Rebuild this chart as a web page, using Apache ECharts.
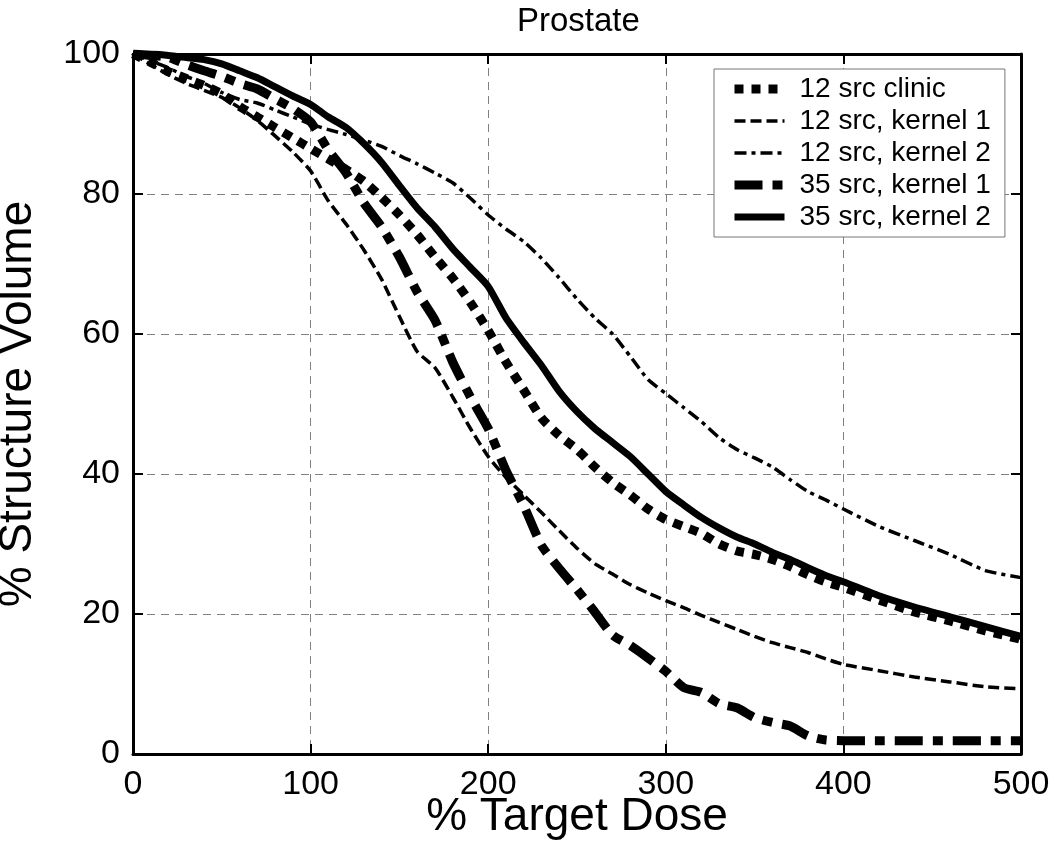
<!DOCTYPE html>
<html>
<head>
<meta charset="utf-8">
<script src="https://cdn.jsdelivr.net/npm/echarts@6/dist/echarts.min.js"></script>
<style>html,body{margin:0;padding:0;background:#fff}#c{width:1050px;height:852px}</style>
</head>
<body>
<div id="c"></div>
<script>
var dose = [0,10,20,30,40,50,60,70,80,90,100,110,120,130,140,150,160,170,180,190,200,210,220,230,240,250,260,270,280,290,300,310,320,330,340,350,360,370,380,390,400,420,440,460,480,500];
var clinic12 = [100,98.8,97.5,96.5,95.5,94.3,92.5,91,89.5,88,86.5,85,83.5,81.8,79.5,77,74.2,71,68,64.5,60.5,56,52,48,45.5,43.5,41,38.8,37,35,33.5,32.5,31.5,30,29,28.5,27.8,26.8,25.6,24.6,23.8,22,20.3,19,17.6,16.4];
var kernel1_12 = [100,98.5,97,95.8,94.8,93.8,92.3,90.5,88.3,86,83.3,79,75.7,72,67.8,62.5,57.5,55.2,51,46.5,42.5,39.5,37,34.5,31.9,29.4,27.2,25.7,24.2,23,21.9,20.9,19.8,18.8,17.8,16.8,15.9,15.2,14.5,13.6,12.8,11.9,11,10.3,9.6,9.3];
var kernel2_12 = [100,99,98,96.8,95.8,94.5,93.5,93,92,91,90,89.2,88.5,87.7,86.8,85.5,84.3,83,81.6,79.4,77,75,73.2,70.8,68,65,62.3,60,56.8,53.5,51.5,49.5,47.5,45.2,43.5,42.3,41,39.2,37.5,36.3,35,32.5,30.5,28.5,26.2,25.2];
var kernel1_35 = [100,99.8,99.5,98.5,97.6,96.8,95.8,95,93.6,92.2,90.3,86.3,83,78.7,75.3,71,66,62,56,51,46.5,40.5,35.5,29.8,26.5,23.5,20.3,17,15.5,13.7,11.8,9.5,8.8,7.2,6.6,5.2,4.5,4,2.6,2,1.9,1.9,1.9,1.9,1.9,1.9];
var kernel2_35 = [100,100,99.8,99.5,99.2,98.6,97.6,96.6,95.3,94,92.8,91,89.5,87.2,84.5,81.2,78,75.3,72.2,69.5,66.8,62.3,58.8,55.5,51.8,48.9,46.5,44.5,42.5,40,37.5,35.6,33.8,32.3,31,30,28.8,27.8,26.6,25.5,24.6,22.6,21,19.6,18.2,16.8];
var seriesNames = ['12 src clinic','12 src, kernel 1','12 src, kernel 2','35 src, kernel 1','35 src, kernel 2'];
var xTicks = [0,100,200,300,400,500];
var yTicks = [0,20,40,60,80,100];

function pairs(ys){ return dose.map(function(d,i){ return [d, ys[i]]; }); }
var FONT = 'Liberation Sans, Arial, sans-serif';
var styles = [
  {width:9, type:[9,8]},
  {width:3.5, type:[11,5]},
  {width:3.5, type:[12,5,4,5]},
  {width:9, type:[28,10,10,10]},
  {width:7, type:'solid'}
];
var datasets = [clinic12, kernel1_12, kernel2_12, kernel1_35, kernel2_35];

var chart = echarts.init(document.getElementById('c'), null, {renderer:'canvas'});
var axisCommon = {
  axisLine:{show:true, onZero:false, lineStyle:{color:'#000', width:3}},
  axisTick:{show:true, inside:true, length:10, lineStyle:{color:'#000', width:2}}
};
chart.setOption({
  animation:false,
  backgroundColor:'#fff',
  title:{text:'Prostate', left:512, top:0, textStyle:{fontFamily:FONT, fontSize:33, fontWeight:'normal', color:'#000'}},
  grid:{left:133, right:29, top:54, bottom:98, containLabel:false, outerBoundsMode:'none'},
  legend:{
    orient:'vertical', left:714, top:69,
    backgroundColor:'#fff', borderColor:'#777', borderWidth:1,
    padding:[6,14,6,16], itemWidth:50, itemHeight:20, itemGap:4,
    data:seriesNames,
    itemStyle:{opacity:0, borderWidth:0},
    lineStyle:{width:'inherit', type:'inherit'},
    textStyle:{fontFamily:FONT, fontSize:28, color:'#000', padding:[0,0,0,10]}
  },
  xAxis:[
    Object.assign({type:'value', min:0, max:500, interval:100, position:'bottom',
      name:'% Target Dose', nameLocation:'middle', nameGap:40, nameMoveOverlap:false,
      nameTextStyle:{fontFamily:FONT, fontSize:46, color:'#000'},
      axisLabel:{fontFamily:FONT, fontSize:34, color:'#000', margin:14},
      splitLine:{show:true, lineStyle:{color:'#808080', width:1, type:[8,6]}}}, axisCommon),
    Object.assign({type:'value', min:0, max:500, interval:100, position:'top',
      axisLabel:{show:false}, splitLine:{show:false}}, axisCommon)
  ],
  yAxis:[
    Object.assign({type:'value', min:0, max:100, interval:20, position:'left',
      name:'% Structure Volume', nameLocation:'middle', nameGap:92, nameMoveOverlap:false,
      nameTextStyle:{fontFamily:FONT, fontSize:46, color:'#000'},
      axisLabel:{fontFamily:FONT, fontSize:34, color:'#000', margin:13},
      splitLine:{show:true, lineStyle:{color:'#808080', width:1, type:[8,6]}}}, axisCommon),
    Object.assign({type:'value', min:0, max:100, interval:20, position:'right',
      axisLabel:{show:false}, splitLine:{show:false}}, axisCommon)
  ],
  series: seriesNames.map(function(n,i){
    return {
      name:n, type:'line', xAxisIndex:0, yAxisIndex:0,
      data:pairs(datasets[i]), symbol:'none', smooth:0.2,
      lineStyle:{color:'#000', width:styles[i].width, type:styles[i].type, cap:'butt'},
      itemStyle:{color:'#000'},
      z: 2
    };
  })
});
</script>
</body>
</html>
